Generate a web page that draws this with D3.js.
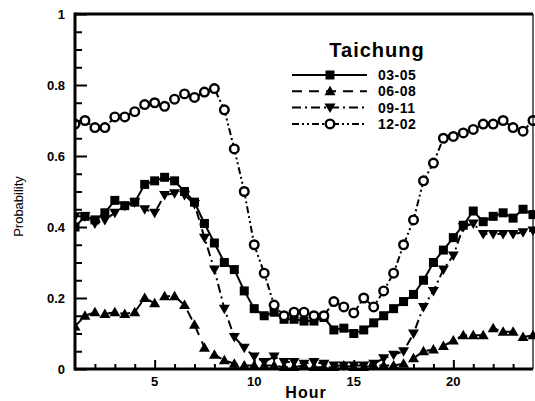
<!DOCTYPE html>
<html>
<head>
<meta charset="utf-8">
<script src="https://cdn.jsdelivr.net/npm/d3@7"></script>
<style>
  body { margin: 0; background: #fff; }
  text { font-family: "Liberation Sans", Arial, sans-serif; fill: #000; }
</style>
</head>
<body>
<div id="chart"></div>
<script>
const W = 535, H = 401;
const margin = {left: 75, right: 2, top: 14, bottom: 32};

// half-hour steps, 1 .. 24
const hours = d3.range(1, 24.01, 0.5);

const s0305 = [0.40,0.43,0.42,0.44,0.475,0.46,0.47,0.52,0.53,0.54,0.53,0.50,0.47,0.41,0.355,0.30,
  0.28,0.22,0.17,0.15,0.16,0.14,0.14,0.135,0.135,0.145,0.11,0.115,0.10,0.11,0.13,0.15,
  0.17,0.19,0.21,0.25,0.30,0.335,0.37,0.405,0.445,0.415,0.43,0.44,0.425,0.45,0.435];
const s0608 = [0.12,0.15,0.16,0.155,0.16,0.155,0.16,0.20,0.185,0.205,0.205,0.18,0.125,0.06,0.04,0.025,
  0.015,0.01,0.01,0.01,0.01,0.005,0.005,0.01,0.005,0.005,0.005,0.01,0.005,0.005,0.01,0.01,
  0.01,0.015,0.03,0.05,0.055,0.065,0.08,0.095,0.095,0.095,0.115,0.105,0.105,0.09,0.095];
const s0911 = [0.43,0.43,0.41,0.42,0.44,0.46,0.47,0.45,0.44,0.49,0.495,0.49,0.465,0.37,0.28,0.17,
  0.09,0.06,0.035,0.02,0.035,0.02,0.02,0.015,0.02,0.015,0.01,0.01,0.01,0.01,0.015,0.03,
  0.04,0.05,0.10,0.175,0.22,0.28,0.32,0.40,0.41,0.38,0.38,0.38,0.38,0.385,0.39];
const s1202 = [0.69,0.70,0.68,0.68,0.71,0.71,0.725,0.745,0.75,0.74,0.76,0.775,0.765,0.78,0.79,0.73,
  0.62,0.50,0.35,0.27,0.18,0.15,0.16,0.16,0.15,0.15,0.19,0.175,0.158,0.20,0.175,0.22,
  0.27,0.35,0.42,0.53,0.58,0.65,0.655,0.665,0.675,0.69,0.69,0.70,0.68,0.67,0.70];

const seriesNames = ["03-05", "06-08", "09-11", "12-02"];
const seriesValues = [s0305, s0608, s0911, s1202];
const markerTypes = ["square", "up", "down", "circle"];
const dashes = [null, "10,7", "9,4,2,4", "7,3,2,3,2,3"];

const xTicks = [5, 10, 15, 20];
const yTicks = [0, 0.2, 0.4, 0.6, 0.8, 1];

const svg = d3.select("#chart").append("svg")
  .attr("width", W).attr("height", H);

const x = d3.scaleLinear().domain([1, 24]).range([margin.left, W - margin.right]);
const y = d3.scaleLinear().domain([0, 1]).range([H - margin.bottom, margin.top]);

const clip = svg.append("clipPath").attr("id", "plotclip")
  .append("rect")
  .attr("x", margin.left).attr("y", margin.top - 6)
  .attr("width", W - margin.right - margin.left + 2)
  .attr("height", H - margin.bottom - margin.top + 8);

// markers
function drawMarker(g, type, cx, cy) {
  if (type === "square") {
    g.append("rect").attr("x", cx - 4.5).attr("y", cy - 4.5)
      .attr("width", 9).attr("height", 9).attr("fill", "#000");
  } else if (type === "up") {
    g.append("path").attr("d", `M${cx},${cy - 5.5}L${cx + 5.5},${cy + 4}L${cx - 5.5},${cy + 4}Z`)
      .attr("fill", "#000");
  } else if (type === "down") {
    g.append("path").attr("d", `M${cx},${cy + 5.5}L${cx + 5.5},${cy - 4}L${cx - 5.5},${cy - 4}Z`)
      .attr("fill", "#000");
  } else {
    g.append("circle").attr("cx", cx).attr("cy", cy).attr("r", 4.3)
      .attr("fill", "#fff").attr("stroke", "#000").attr("stroke-width", 2.4);
  }
}

const line = d3.line().x(d => x(d[0])).y(d => y(d[1]));

const plot = svg.append("g").attr("clip-path", "url(#plotclip)");

seriesValues.forEach((vals, i) => {
  const pts = hours.map((h, j) => [h, vals[j]]);
  plot.append("path")
    .datum(pts)
    .attr("d", line)
    .attr("fill", "none")
    .attr("stroke", "#000")
    .attr("stroke-width", 2)
    .attr("stroke-dasharray", dashes[i]);
  const mg = plot.append("g");
  pts.forEach(p => drawMarker(mg, markerTypes[i], x(p[0]), y(p[1])));
});

// axes - ticks point inward
const yAxis = d3.axisLeft(y).tickValues(d3.range(0, 1.001, 0.05)).tickSize(0).tickFormat("");
const yg = svg.append("g").attr("transform", `translate(${margin.left},0)`).call(yAxis);
yg.select(".domain").remove();
yg.selectAll(".tick line")
  .attr("x2", d => (Math.abs(d * 5 - Math.round(d * 5)) < 1e-6) ? 12 : 7)
  .attr("stroke", "#000").attr("stroke-width", 2);

svg.append("g").selectAll("text").data(yTicks).join("text")
  .attr("x", margin.left - 10).attr("y", d => y(d) + 5)
  .attr("text-anchor", "end")
  .style("font-size", "13px").style("font-weight", "bold")
  .text(d => d === 0 || d === 1 ? d : d.toFixed(1));

const xAxis = d3.axisBottom(x).tickValues(d3.range(2, 24, 1)).tickSize(0).tickFormat("");
const xg = svg.append("g").attr("transform", `translate(0,${H - margin.bottom})`).call(xAxis);
xg.select(".domain").remove();
xg.selectAll(".tick line")
  .attr("y2", d => xTicks.includes(d) ? -9 : -5)
  .attr("stroke", "#000").attr("stroke-width", 2);

svg.append("g").selectAll("text").data(xTicks).join("text")
  .attr("x", d => x(d)).attr("y", H - margin.bottom + 17)
  .attr("text-anchor", "middle")
  .style("font-size", "13px").style("font-weight", "bold")
  .text(d => d);

// frame
const x0 = margin.left, x1 = W - margin.right, y0 = margin.top, y1 = H - margin.bottom;
svg.append("line").attr("x1", x0).attr("x2", x0).attr("y1", y0 - 1.5).attr("y2", y1 + 1.5)
  .attr("stroke", "#000").attr("stroke-width", 3);
svg.append("line").attr("x1", x0).attr("x2", x1).attr("y1", y1).attr("y2", y1)
  .attr("stroke", "#000").attr("stroke-width", 3);
svg.append("line").attr("x1", x0).attr("x2", x1).attr("y1", y0).attr("y2", y0)
  .attr("stroke", "#000").attr("stroke-width", 3);
svg.append("line").attr("x1", x1).attr("x2", x1).attr("y1", y0).attr("y2", y1)
  .attr("stroke", "#000").attr("stroke-width", 1.2);

// axis titles
svg.append("text").attr("x", 306).attr("y", 398)
  .attr("text-anchor", "middle")
  .style("font-size", "16px").style("font-weight", "bold").style("letter-spacing", "1px")
  .text("Hour");
svg.append("text")
  .attr("transform", `translate(23,${(y0 + y1) / 2 + 15}) rotate(-90)`)
  .attr("text-anchor", "middle")
  .style("font-size", "13px")
  .text("Probability");

// legend
const lg = svg.append("g");
lg.append("text").attr("x", 377).attr("y", 57)
  .attr("text-anchor", "middle")
  .style("font-size", "20px").style("font-weight", "bold").style("letter-spacing", "1px")
  .text("Taichung");
seriesNames.forEach((name, i) => {
  const ly = 75 + i * 16.3;
  lg.append("line").attr("x1", 292).attr("x2", 367).attr("y1", ly).attr("y2", ly)
    .attr("stroke", "#000").attr("stroke-width", 2)
    .attr("stroke-dasharray", dashes[i]);
  drawMarker(lg, markerTypes[i], 330, ly);
  lg.append("text").attr("x", 378).attr("y", ly + 5)
    .style("font-size", "14px").style("font-weight", "bold").style("letter-spacing", "0.5px")
    .text(name);
});
</script>
</body>
</html>
